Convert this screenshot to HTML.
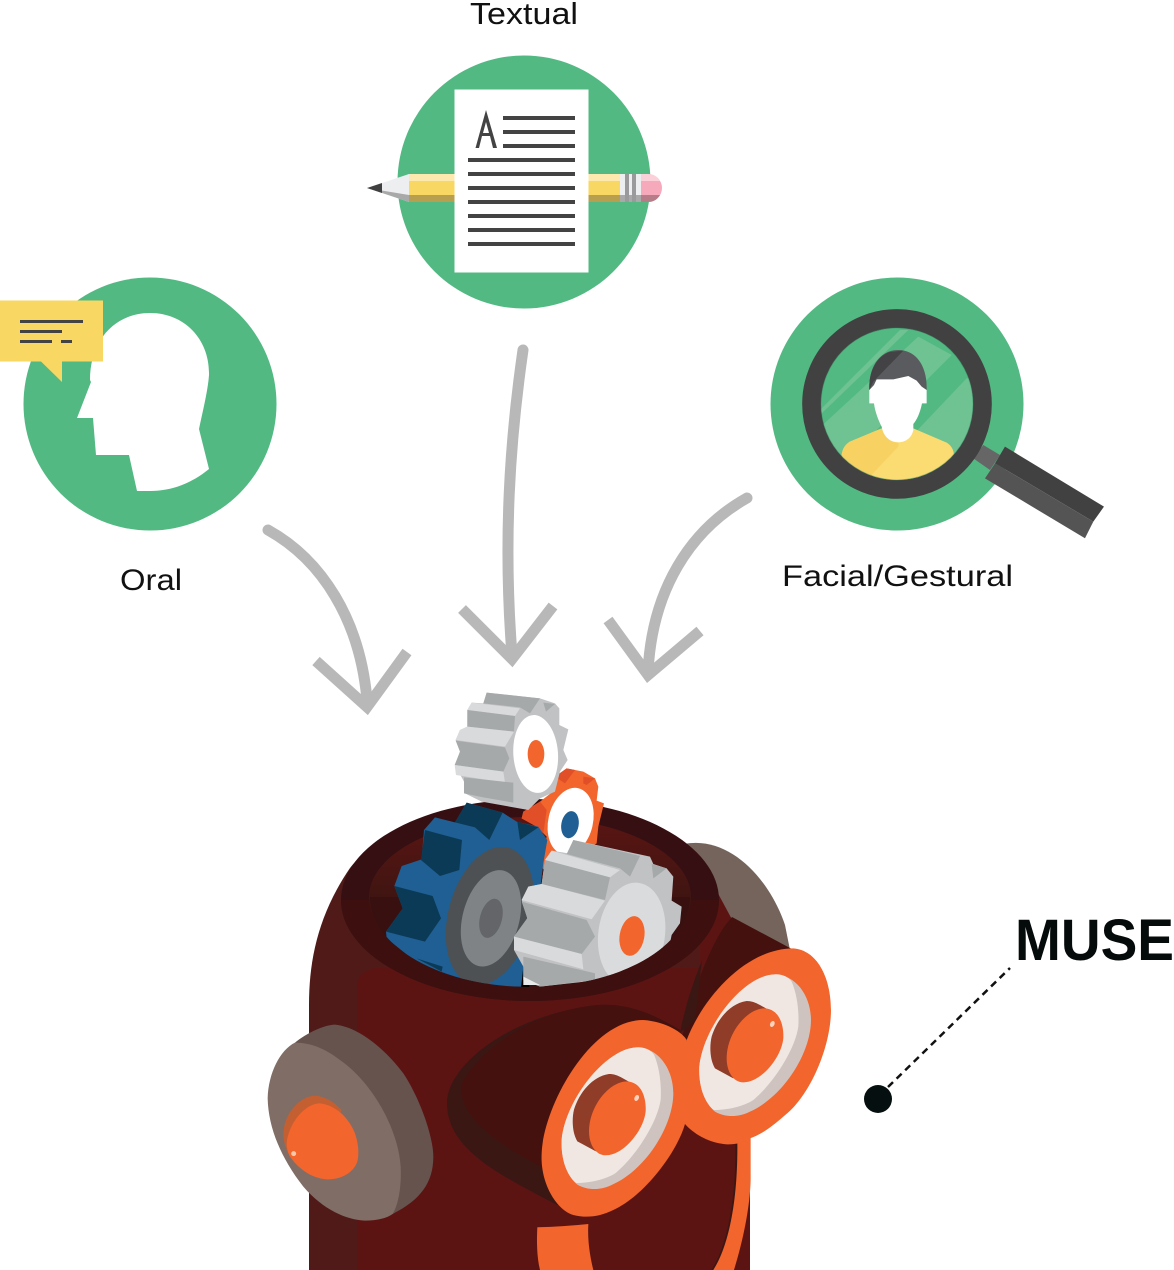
<!DOCTYPE html>
<html><head><meta charset="utf-8"><style>
html,body{margin:0;padding:0;background:#fff}
svg{display:block}
text{font-family:"Liberation Sans",sans-serif;fill:#111}
</style></head><body>
<svg width="1174" height="1270" viewBox="0 0 1174 1270" xmlns="http://www.w3.org/2000/svg">
<defs>
<clipPath id="hole"><path d="M300,600H760V897H690A160,90 0 0 1 370,897H300Z"/></clipPath>
<clipPath id="glass"><circle cx="381" cy="372" r="228"/></clipPath>
<linearGradient id="inner" x1="0" y1="0" x2="0" y2="1"><stop offset="0" stop-color="#5a1513"/><stop offset=".55" stop-color="#3d1511"/><stop offset="1" stop-color="#37100f"/></linearGradient>
</defs>

<!-- circles -->
<circle cx="524" cy="182" r="126.5" fill="#53b983"/>
<circle cx="150" cy="404" r="126.5" fill="#53b983"/>
<circle cx="897" cy="404" r="126.5" fill="#53b983"/>

<!-- pencil -->
<path d="M367,188L409,174V202Z" fill="#eceef0"/>
<path d="M367,188L409,195V202Z" fill="#a9a9aa"/>
<path d="M367,188L382,183V193Z" fill="#404040"/>
<rect x="409" y="174" width="211" height="7" fill="#fde9ad"/>
<rect x="409" y="181" width="211" height="14" fill="#f9d763"/>
<rect x="409" y="195" width="211" height="7" fill="#b89f50"/>
<rect x="620" y="174" width="21" height="21" fill="#eceef0"/>
<rect x="620" y="195" width="21" height="7" fill="#a9a9aa"/>
<rect x="625" y="174" width="4" height="28" fill="#9a9a9c"/>
<rect x="632" y="174" width="4" height="28" fill="#9a9a9c"/>
<path d="M641,174H648A14,14 0 0 1 648,202H641Z" fill="#f6a9bb"/>
<path d="M641,174H648Q656,174 660,181H641Z" fill="#fbd0d9"/>
<path d="M641,195H660Q656,202 648,202H641Z" fill="#b67c87"/>

<!-- paper -->
<rect x="454.500" y="89.500" width="134" height="183" fill="#fff"/>
<g fill="#434343">
<rect x="503" y="116" width="72" height="4"/><rect x="503" y="130" width="72" height="4"/><rect x="503" y="144" width="72" height="4"/>
<rect x="468" y="158" width="107" height="4"/><rect x="468" y="172" width="107" height="4"/><rect x="468" y="186" width="107" height="4"/>
<rect x="468" y="200" width="107" height="4"/><rect x="468" y="214" width="107" height="4"/><rect x="468" y="228" width="107" height="4"/><rect x="468" y="242" width="107" height="4"/>
</g>
<path d="M486,110L497,148H493L490,136H482L479,148H475.500Z M486,122L483,133H489Z" fill="#434343" fill-rule="evenodd"/>

<!-- head -->
<path d="M90,380C90,340 115,313 150,313C185,313 210,340 209,375C208,390 203,410 199,429L209,469C192,483 172,491 150,491C146,491 142,491 137,491L129,455H96L93,418H77L91,382Z" fill="#fff"/>
<path d="M0,300.500H103V361.500H62V382L41,361.500H0Z" fill="#f9d763"/>
<g fill="#434343">
<rect x="20" y="320" width="63" height="3"/><rect x="20" y="330" width="42" height="3"/><rect x="20" y="340" width="32" height="3"/><rect x="61" y="340" width="11" height="3"/>
</g>

<!-- magnifier -->
<g transform="translate(770,280) scale(.3333)">
<polygon points="640,495 690,525 660,570 610,535" fill="#666"/>
<polygon points="705,500 1002,680 970,725 675,550" fill="#414141"/>
<polygon points="675,550 970,725 945,775 645,595" fill="#545454"/>
<circle cx="381" cy="372" r="256" fill="none" stroke="#414141" stroke-width="57"/>
<circle cx="381" cy="372" r="228" fill="#53b983"/>
<g clip-path="url(#glass)">
<polygon points="445,170 545,225 180,590 120,470" fill="#6fc392"/>
<polygon points="590,295 640,300 640,640 310,590" fill="#6fc392"/>
<polygon points="390,150 415,150 150,405 150,390" fill="#6fc392"/>
<path d="M215,525Q218,498 240,485L335,445H430L530,488Q550,500 552,525V640H215Z" fill="#fbdc72"/>
<path d="M215,525Q218,498 240,485L335,445H390L385,500L300,590L215,640Z" fill="#f7d263"/>
<path d="M298,330C295,260 330,210 385,210C440,210 472,260 470,330Z" fill="#5a5b5e"/>
<path d="M298,330C296,275 318,232 358,216L400,212L310,305Z" fill="#434345"/>
<path d="M312,315L320,298L370,298L415,288L440,302L455,320L470,330V370H456C450,400 440,420 430,432V450C425,475 405,487 385,487C360,487 340,470 335,440C325,420 315,395 312,370H298V330Z" fill="#fff"/>
</g>
<circle cx="381" cy="372" r="228" fill="none" stroke="#3f8f68" stroke-width="3" opacity=".4"/>
</g>

<!-- labels -->
<text x="470" y="24" font-size="31" textLength="108" lengthAdjust="spacingAndGlyphs">Textual</text>
<text x="120" y="590" font-size="30" textLength="62" lengthAdjust="spacingAndGlyphs">Oral</text>
<text x="782" y="586" font-size="30" textLength="231" lengthAdjust="spacingAndGlyphs">Facial/Gestural</text>
<text x="1015" y="960" font-size="58" font-weight="bold" textLength="159" lengthAdjust="spacingAndGlyphs" style="fill:#050a0a">MUSE</text>

<!-- arrows -->
<g fill="none" stroke="#b8b8b8" stroke-width="11" stroke-linecap="round">
<path d="M268,530C322,560 360,620 367,700"/>
<path d="M523,350C510,440 503,540 512,655"/>
<path d="M747,498C690,530 652,590 648,672"/>
</g>
<g fill="none" stroke="#b8b8b8" stroke-width="11">
<path d="M316,661L367,707L407,652"/>
<path d="M462,609L512,659L553,606"/>
<path d="M608,620L648,675L700,631"/>
</g>

<!-- dashed -->
<path d="M888,1087L1010,968" stroke="#111" stroke-width="2.500" stroke-dasharray="7 5" fill="none"/>
<circle cx="878" cy="1099" r="14" fill="#060f0f"/>

<!-- back ear -->
<path d="M684,844C730,835 770,880 785,925L792,960L730,930Z" fill="#74645c"/>

<!-- body -->
<path d="M309,1270V1005C309,960 318,915 350,868C375,835 440,802 530,800C600,800 660,820 700,860L730,920L750,1000V1270Z" fill="#4f1a17"/>
<path d="M357,1270V985Q357,973 375,968H700L745,960L750,1000V1270Z" fill="#5c1413"/>
<path d="M700,860L735,925L700,970Z" fill="#5c1413"/>

<!-- rim -->
<ellipse cx="530" cy="900" rx="189" ry="101" fill="#360f12"/>
<path d="M341,900A189,101 0 0 0 719,900Z" fill="#3d100f"/>
<ellipse cx="530" cy="897" rx="161" ry="80" fill="url(#inner)"/>
<path d="M370,897A160,90 0 0 0 690,897Z" fill="#37100f"/>

<!-- gears -->
<g clip-path="url(#hole)">
<g transform="translate(440,680) scale(.3333)">
<polygon points="380,265 430,275 465,295 475,320 470,362 492,370 475,440 470,490 330,580 300,560 320,470 290,440 245,415 250,395 300,365 345,330 345,290" fill="#f2652c"/>
<polygon points="380,265 405,270 375,310 345,290" fill="#e04f27"/>
<polygon points="430,290 465,295 440,315 430,310" fill="#e04f27"/>
<polygon points="250,395 300,365 320,390 310,460 290,440 245,415" fill="#e04f27"/>
<ellipse cx="392" cy="424" rx="67" ry="102" transform="rotate(13 392 424)" fill="#fff"/>
<ellipse cx="390" cy="434" rx="26" ry="41" transform="rotate(10 390 434)" fill="#1f5f93"/>
</g>
<g transform="translate(260,790) scale(.3333)">
<polygon points="620,38 728,68 770,95 835,110 862,150 850,220 840,300 800,500 785,590 560,590 380,445 378,425 428,355 403,288 425,228 485,208 492,120 525,82 585,97" fill="#1f5f93"/>
<polygon points="620,38 728,68 688,150 645,112 585,97" fill="#0b3a57"/>
<polygon points="772,95 835,112 780,150" fill="#0b3a57"/>
<polygon points="495,120 606,150 598,240 540,258 483,210" fill="#0b3a57"/>
<polygon points="403,288 518,318 543,385 495,455 378,425 428,355" fill="#0b3a57"/>
<polygon points="470,505 548,530 545,545" fill="#0b3a57"/>
<ellipse cx="690" cy="378" rx="125" ry="212" transform="rotate(15 690 378)" fill="#4d5153"/>
<ellipse cx="693" cy="385" rx="85" ry="148" transform="rotate(15 693 385)" fill="#7f8386"/>
<ellipse cx="693" cy="385" rx="33" ry="60" transform="rotate(15 693 385)" fill="#636568"/>
<polygon points="790,530 810,595 783,595" fill="#000"/>
</g>
<g transform="translate(440,680) scale(.3333)">
<polygon points="400,480 630,530 640,552 680,565 700,590 695,662 725,680 720,730 695,765 690,790 640,860 480,900 300,920 250,900 250,860 222,810 222,770 262,715 245,660 265,620 305,612 315,540 335,512 385,520" fill="#c0c2c4"/>
<ellipse cx="575" cy="762" rx="100" ry="155" transform="rotate(8 575 762)" fill="#dadbdd"/>
<ellipse cx="576" cy="768" rx="37" ry="60" transform="rotate(10 576 768)" fill="#f2652c"/>
<polygon points="400,480 600,528 570,590 540,565 380,522" fill="#a6a9aa"/>
<polygon points="335,512 540,570 510,592 315,540" fill="#d9dadc"/>
<polygon points="315,540 510,592 495,660 305,612" fill="#a6a9aa"/>
<polygon points="265,620 305,612 495,662 455,718 245,660" fill="#d9dadc"/>
<polygon points="245,665 440,720 465,770 425,822 222,770 262,715" fill="#a6a9aa"/>
<polygon points="222,770 425,822 430,868 222,810" fill="#d9dadc"/>
<polygon points="250,830 465,880 465,900 300,920 250,890" fill="#a6a9aa"/>
<polygon points="250,890 300,915 250,915" fill="#e8e9ea"/>
<polygon points="635,552 680,565 640,595" fill="#a6a9aa"/>
</g>
</g>
<g transform="translate(440,680) scale(.3333)">
<polygon points="140,38 300,55 345,70 358,85 358,135 385,148 370,210 383,240 360,275 345,335 300,355 265,390 125,365 75,340 72,305 45,255 60,215 47,180 60,150 82,140 82,90 95,68 130,70" fill="#c0c2c4"/>
<polygon points="140,38 300,55 270,100 240,82 130,70" fill="#a6a9aa"/>
<polygon points="95,68 240,85 225,108 82,90" fill="#d9dadc"/>
<polygon points="82,90 225,108 222,155 82,140" fill="#a6a9aa"/>
<polygon points="60,150 82,140 222,155 195,200 47,180" fill="#d9dadc"/>
<polygon points="47,182 195,202 208,235 190,275 44,255 60,215" fill="#a6a9aa"/>
<polygon points="44,255 190,275 195,308 48,285" fill="#d9dadc"/>
<polygon points="72,292 220,308 220,368 130,352 72,340" fill="#a6a9aa"/>
<polygon points="310,68 345,72 318,95" fill="#a6a9aa"/>
<ellipse cx="287" cy="222" rx="67" ry="117" transform="rotate(-4 287 222)" fill="#fff"/>
<ellipse cx="288" cy="222" rx="25" ry="42" fill="#f2652c"/>
</g>

<!-- right tube -->
<path d="M732,917L803,955L745,1120L680,1047C690,1000 710,940 732,917Z" fill="#44110e"/>
<path d="M702,960C692,985 684,1010 680,1033L695,1020Z" fill="#3b1714"/>

<!-- left tube -->
<path d="M447,1103C447,1065 510,1015 597,1005C625,1003 650,1012 680,1030L640,1180L557,1205C500,1175 447,1150 447,1103Z" fill="#3b1714"/>
<path d="M462,1083C480,1050 530,1012 597,1005C625,1003 650,1012 680,1030L640,1180L547,1170C510,1150 455,1120 462,1083Z" fill="#44110e"/>

<!-- eyes and pipes -->
<g transform="translate(530,940) scale(.3333)">
<path d="M22,862Q100,860 175,852C172,900 180,950 190,990H30C20,950 20,900 22,862Z" fill="#f2652c"/>
<path d="M616,610C619,800 584,930 544,990H556C596,930 625,800 622,610Z" fill="#3b1714"/>
<path d="M622,600L662,590V720C660,800 640,900 612,990H550C590,930 625,800 622,600Z" fill="#f2652c"/>
<path d="M470,300C520,170 650,25 790,25C860,30 903,110 903,210C903,320 840,470 760,530C720,565 690,585 660,595C640,612 600,615 580,612C530,605 490,580 465,552Z" fill="#f2652c"/>
<path d="M35,640C40,500 180,240 340,240C410,245 460,280 470,300L490,430L465,552C440,640 340,770 250,810C210,830 170,835 130,825C80,810 30,730 35,640Z" fill="#f2652c"/>
<g>
<path d="M508,380C520,260 640,105 735,103C800,105 843,170 843,240C843,340 760,470 660,515C630,530 590,535 555,515C525,490 505,440 508,380Z" fill="#cfc3bf"/>
<path d="M508,380C520,260 640,105 735,103C755,102 775,110 785,125C800,160 808,210 805,260C795,330 730,430 670,480C640,500 590,510 552,510C525,490 505,440 508,380Z" fill="#f0e7e3"/>
<path d="M545,290C560,240 600,190 650,183C665,183 675,187 690,195L738,222L610,415L555,385C540,360 538,320 545,290Z" fill="#8f3c28"/>
<path d="M590,355C590,280 650,205 705,205C748,208 762,255 760,295C755,350 695,427 640,427C610,427 590,395 590,355Z" fill="#f2652c"/>
<ellipse cx="727" cy="252" rx="6.500" ry="9.500" transform="rotate(25 727 252)" fill="#fbd3bf"/>
</g>
<g transform="translate(-413,219)">
<path d="M508,380C520,260 640,105 735,103C800,105 843,170 843,240C843,340 760,470 660,515C630,530 590,535 555,515C525,490 505,440 508,380Z" fill="#cfc3bf"/>
<path d="M508,380C520,260 640,105 735,103C755,102 775,110 785,125C800,160 808,210 805,260C795,330 730,430 670,480C640,500 590,510 552,510C525,490 505,440 508,380Z" fill="#f0e7e3"/>
<path d="M545,290C560,240 600,190 650,183C665,183 675,187 690,195L738,222L610,415L555,385C540,360 538,320 545,290Z" fill="#8f3c28"/>
<path d="M590,355C590,280 650,205 705,205C748,208 762,255 760,295C755,350 695,427 640,427C610,427 590,395 590,355Z" fill="#f2652c"/>
<ellipse cx="733" cy="255" rx="6.500" ry="9.500" transform="rotate(25 733 255)" fill="#fbd3bf"/>
</g>
</g>

<!-- left ear -->
<g transform="translate(260,1010) scale(.3333)">
<path d="M105,98C140,70 190,45 225,44C290,50 370,110 430,190C480,265 520,380 520,440C520,520 480,570 398,612L300,300Z" fill="#66534e"/>
<path d="M105,98C60,120 25,190 23,265C25,350 60,440 130,530C190,600 260,630 315,632C350,632 380,625 398,612C415,585 425,530 422,470C415,360 340,220 240,150C195,115 150,98 105,98Z" fill="#7f6d66"/>
<path d="M70,370C72,310 120,258 165,257C200,260 225,280 245,300L150,480L85,430C75,410 70,390 70,370Z" fill="#c45f32"/>
<path d="M80,400C85,340 135,280 180,280C225,285 265,320 285,370C295,400 298,430 292,455C280,490 240,510 200,508C150,505 110,470 90,440C82,425 80,410 80,400Z" fill="#f2652c"/>
<circle cx="101" cy="431" r="7.500" fill="#fbc7a9"/>
</g>
</svg>
</body></html>
